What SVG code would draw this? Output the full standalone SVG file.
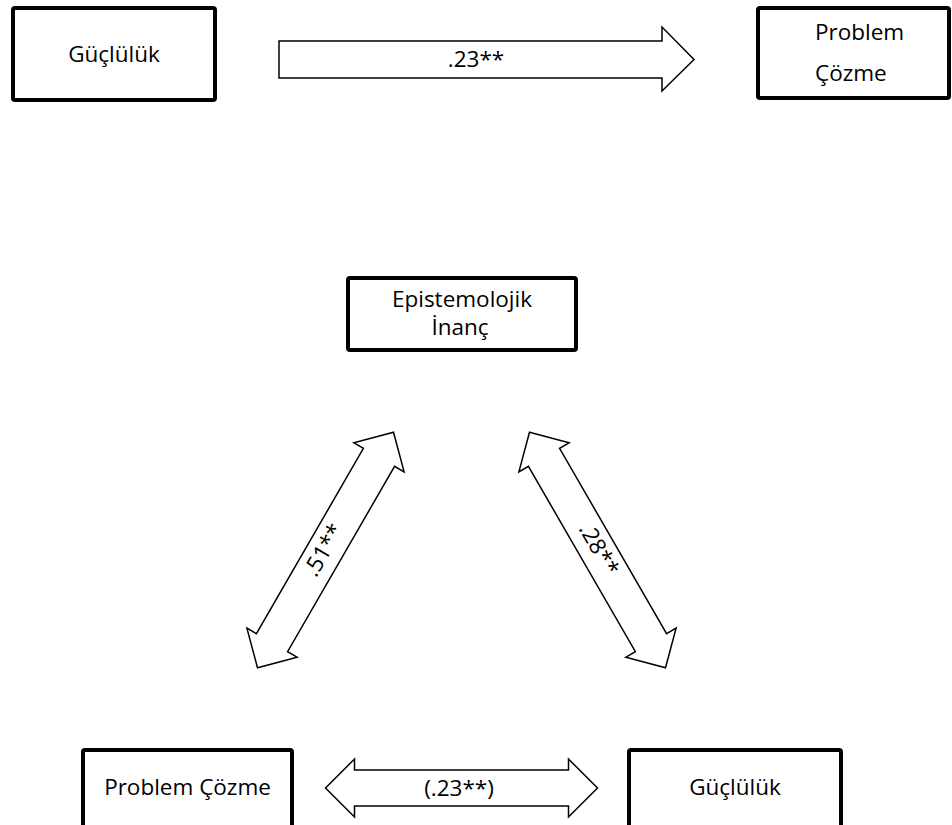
<svg xmlns="http://www.w3.org/2000/svg" width="952" height="825" viewBox="0 0 952 825">
<defs>
<style>
.box{fill:#fff;stroke:#000;stroke-width:4;stroke-linejoin:round}
.arr{fill:#fff;stroke:#000;stroke-width:1.5;stroke-linejoin:miter}
text{font-family:"Open Sans","Liberation Sans",sans-serif;font-size:22.5px;fill:#000}
.c{text-anchor:middle}
</style>
<path id="dbl" d="M-136,0 L-107,-29 L-107,-18 L107,-18 L107,-29 L136,0 L107,29 L107,18 L-107,18 L-107,29 Z"/>
</defs>
<rect width="952" height="825" fill="#fff"/>
<g id="connectors">
<path class="arr" d="M279,41 L662,41 L662,27 L694,59.5 L662,91 L662,78 L279,78 Z"/>
<text class="c" x="476" y="67">.23**</text>
<use href="#dbl" class="arr" transform="translate(325.5,550) rotate(-60)"/>
<text class="c" transform="translate(325.5,550) rotate(-60)" x="-1" y="6">.51**</text>
<use href="#dbl" class="arr" transform="translate(597.5,550) rotate(60)"/>
<text class="c" transform="translate(597.5,550) rotate(60)" x="0" y="6">.28**</text>
<use href="#dbl" class="arr" transform="translate(461.5,788)"/>
<text class="c" x="459" y="796">(.23**)</text>
</g>
<g id="n-guclu-top">
<rect class="box" x="13" y="8" width="202" height="92" rx="2"/>
<text class="c" x="114" y="62">Güçlülük</text>
</g>
<g id="n-problem-top">
<rect class="box" x="758" y="8" width="191" height="90" rx="2"/>
<text x="815" y="40">Problem</text>
<text x="815" y="81">Çözme</text>
</g>
<g id="n-epistemolojik">
<rect class="box" x="348" y="278" width="228" height="72" rx="2"/>
<text class="c" x="462" y="307">Epistemolojik</text>
<text class="c" x="460" y="335">İnanç</text>
</g>
<g id="n-problem-bottom">
<rect class="box" x="83" y="750" width="209" height="95" rx="2"/>
<text class="c" x="187.5" y="795">Problem Çözme</text>
</g>
<g id="n-guclu-bottom">
<rect class="box" x="629" y="750" width="212" height="95" rx="2"/>
<text class="c" x="735" y="795">Güçlülük</text>
</g>
</svg>
